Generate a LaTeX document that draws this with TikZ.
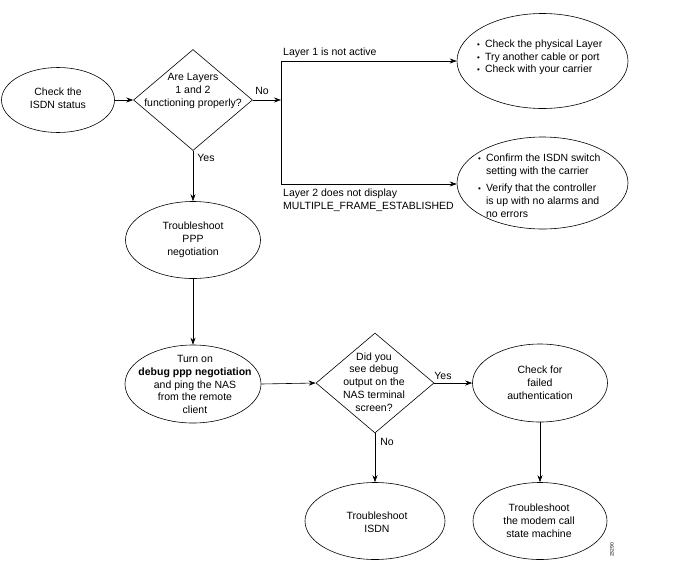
\documentclass[tikz,border=0pt]{standalone}
\usepackage{fontspec}
\setmainfont{Liberation Sans}
\usetikzlibrary{shapes.geometric,arrows.meta}
\newcommand{\tb}{{\fontsize{8}{8}\selectfont\textbullet}}
\begin{document}
\begin{tikzpicture}[x=1pt,y=-1pt,
  fs/.style={font=\fontsize{10.5}{12.8}\selectfont},
  ell/.style={draw, ellipse, inner sep=0pt, line width=0.6pt},
  dia/.style={draw, diamond, inner sep=0pt, line width=0.6pt},
  txt/.style={fs, align=center, inner sep=0pt},
  lbl/.style={fs, inner sep=0pt},
  arr/.style={-{Stealth[length=7pt,width=5pt]}, line width=0.6pt},
  ln/.style={line width=0.6pt}]
\useasboundingbox (0,0) rectangle (696,576);

% nodes
\node[ell, minimum width=113pt, minimum height=65pt] (e1) at (58,100) {};
\node[txt] (t1) at (58,98.5) {Check the\\ISDN status};

\node[dia, minimum width=119pt, minimum height=101pt] (d1) at (193,100) {};
\node[txt] (td1) at (193,91) {Are Layers\\1 and 2\\functioning properly?};

\node[ell, minimum width=171pt, minimum height=95pt] (etr) at (542.5,61) {};
\node[lbl, anchor=west] (ttr) at (477,57.5) {\begin{tabular}{@{}l@{\hspace{5pt}}l@{}}
\tb & Check the physical Layer\\
\tb & Try another cable or port\\
\tb & Check with your carrier
\end{tabular}};

\node[ell, minimum width=171pt, minimum height=92pt] (ebr) at (542.5,183) {};
\node[lbl, anchor=west] (tbr) at (478,187) {\begin{tabular}{@{}l@{\hspace{5pt}}l@{}}
\tb & Confirm the ISDN switch\\
 & setting with the carrier\\[4pt]
\tb & Verify that the controller\\
 & is up with no alarms and\\
 & no errors
\end{tabular}};

\node[ell, minimum width=135pt, minimum height=77pt] (eppp) at (193,240) {};
\node[txt] (tppp) at (193,239.5) {Troubleshoot\\PPP\\negotiation};

\node[ell, minimum width=136pt, minimum height=78pt] (eturn) at (193,384) {};
\node[txt] (tturn) at (195,384.5) {Turn on\\\textbf{debug ppp negotiation}\\and ping the NAS\\from the remote\\client};

\node[dia, minimum width=118pt, minimum height=100pt] (d2) at (375,383) {};
\node[txt] (td2) at (374,382) {Did you\\see debug\\output on the\\NAS terminal\\screen?};

\node[ell, minimum width=135pt, minimum height=78pt] (eauth) at (540,383) {};
\node[txt] (tauth) at (540,382.5) {Check for\\failed\\authentication};

\node[ell, minimum width=140pt, minimum height=77pt] (eisdn) at (375,521) {};
\node[txt] (tisdn) at (377,522) {Troubleshoot\\ISDN};

\node[ell, minimum width=134pt, minimum height=77pt] (emodem) at (540,521) {};
\node[txt] (tmodem) at (539,520.5) {Troubleshoot\\the modem call\\state machine};

% junction
\coordinate (j) at (281,100);
\coordinate (j1) at (281,61);
\coordinate (j2) at (281,184);

% connectors
\draw[arr] (e1.east) -- (d1.west);
\draw[arr] (d1.east) -- (j);
\draw[ln] (j1) -- (j2);
\draw[arr] (j1) -- (etr.west |- j1);
\draw[arr] (j2) -- (ebr.west |- j2);
\draw[arr] (d1.south) -- (eppp.north);
\draw[arr] (eppp.south) -- (eturn.north);
\draw[arr] (eturn.east) -- (d2.west);
\draw[arr] (d2.east) -- (eauth.west);
\draw[arr] (d2.south) -- (eisdn.north);
\draw[arr] (eauth.south) -- (emodem.north);

% labels
\node[lbl] (lno1) at (262,91) {No};
\node[lbl] (lyes1) at (206,158) {Yes};
\node[lbl, anchor=west] (ll1) at (283,53) {Layer 1 is not active};
\node[lbl, anchor=west, align=left] (ll2) at (283,200) {Layer 2 does not display\\MULTIPLE\_FRAME\_ESTABLISHED};
\node[lbl] (lyes2) at (443,376) {Yes};
\node[lbl] (lno2) at (387,442) {No};
\node[rotate=90, inner sep=0pt, font=\fontsize{5}{6}\selectfont] (fid) at (612,550) {23290};
\end{tikzpicture}
\end{document}
